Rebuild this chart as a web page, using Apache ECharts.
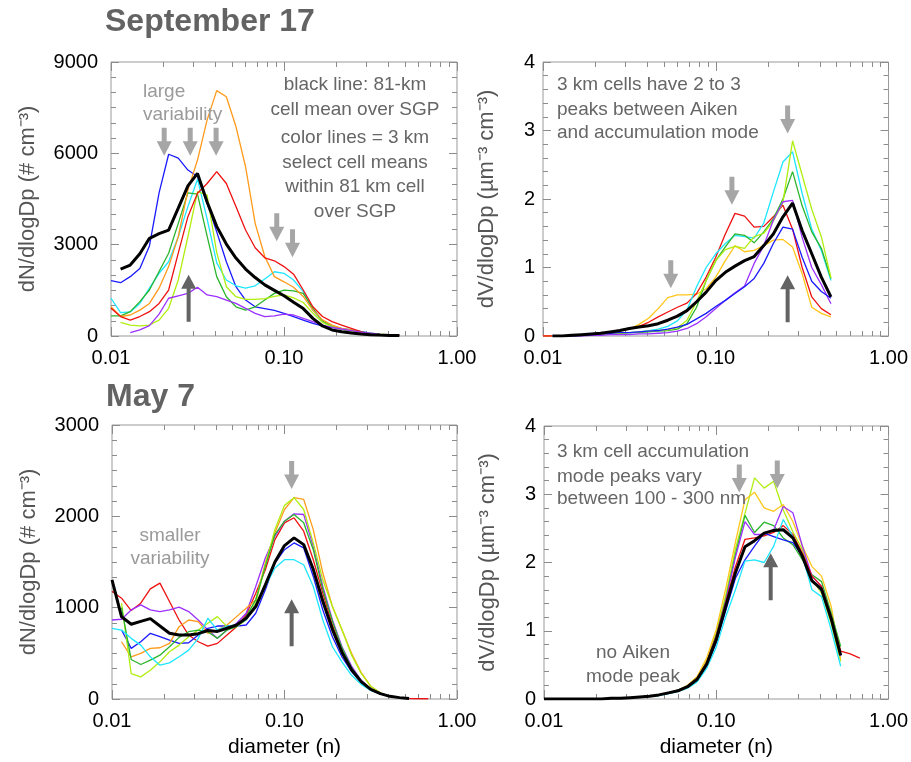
<!DOCTYPE html>
<html>
<head>
<meta charset="utf-8">
<script src="https://cdn.jsdelivr.net/npm/echarts@6/dist/echarts.min.js"></script>
<style>
  html, body { margin: 0; padding: 0; background: #fff; }
  #chart { width: 911px; height: 762px; }
</style>
</head>
<body>
<div id="chart"></div>
<script>
// size bins, 18 per decade
const diameters = [0.01000, 0.01136, 0.01292, 0.01468, 0.01668, 0.01896, 0.02154, 0.02448, 0.02783, 0.03162,
  0.03594, 0.04084, 0.04642, 0.05275, 0.05995, 0.06813, 0.07743, 0.08799, 0.1000, 0.1136,
  0.1292, 0.1468, 0.1668, 0.1896, 0.2154, 0.2448, 0.2783, 0.3162, 0.3594, 0.4084,
  0.4642, 0.5275, 0.5995, 0.6813]

// September 17, number distribution
const sepN_black = [null, 2200, 2330, 2700, 3210, 3360, 3480, 4200, 4930, 5340, 4400, 3600, 3020, 2560, 2200, 1920, 1680, 1500, 1320, 1110, 900, 580, 330, 200, 140, 100, 65, 45, 30, 20, 15]
const sepN_blue = [1820, 1750, 1950, 2220, 2960, 4700, 5970, 5840, 5450, 5240, 4360, 3420, 2440, 1620, 1180, 960, 900, 840, 745, 635, 525, 415, 330, 285, 240, 200, 140, 90, 55, 30, 20]
const sepN_cyan = [1240, 770, 790, 1070, 1570, 2060, 2440, 3260, 4250, 5150, 3850, 2400, 1840, 1650, 1570, 1650, 1870, 2110, 2060, 1840, 1460, 850, 470, 310, 250, 200, 140, 90, 55, 30, 20]
const sepN_green = [660, 660, 800, 1130, 1510, 2120, 2720, 3700, 4700, 4660, 3280, 1950, 1290, 960, 850, 960, 1180, 1400, 1510, 1480, 1400, 910, 500, 310, 220, 170, 120, 80, 50, 30, 20]
const sepN_lime = [null, 450, 360, 330, 360, 520, 910, 1840, 3260, 4740, 4630, 2740, 1620, 1290, 1200, 1200, 1230, 1300, 1350, 1250, 1100, 750, 450, 300, 230, 180, 130, 90, 60, 40, 25]
const sepN_orange = [960, 640, 690, 850, 1070, 1570, 2280, 3260, 4790, 5780, 7100, 8060, 7860, 6880, 5560, 3700, 2610, 1950, 1780, 1600, 1300, 850, 530, 360, 250, 200, 110, 55, 30, 20, 10]
const sepN_red = [910, 640, 525, 640, 800, 1070, 1510, 2720, 3920, 4690, 5010, 5400, 5010, 4250, 3480, 2900, 2570, 2470, 2280, 2030, 1510, 960, 640, 470, 360, 250, 140, 65, 35, 20, 10]
const sepN_purple = [null, null, 110, 200, 340, 720, 1240, 1320, 1400, 1600, 1350, 1290, 1180, 1070, 910, 745, 635, 660, 720, 690, 580, 470, 360, 285, 230, 180, 130, 90, 55, 30, 20]

// September 17, volume distribution
const sepV_black = [null, 0, 0, 0.01, 0.02, 0.03, 0.04, 0.06, 0.08, 0.11, 0.13, 0.15, 0.18, 0.23, 0.29, 0.37, 0.50, 0.64, 0.81, 0.93, 1.02, 1.10, 1.16, 1.32, 1.49, 1.74, 1.94, 1.54, 1.20, 0.86, 0.57]
const sepV_red = [0, 0, 0, 0, 0.01, 0.02, 0.03, 0.05, 0.08, 0.11, 0.14, 0.20, 0.28, 0.35, 0.42, 0.48, 0.62, 0.86, 1.15, 1.49, 1.79, 1.75, 1.59, 1.60, 1.74, 1.91, 1.56, 1.00, 0.57, 0.40, 0.31]
const sepV_gold = [0, 0, 0, 0, 0.01, 0.02, 0.03, 0.05, 0.07, 0.10, 0.17, 0.26, 0.40, 0.56, 0.60, 0.60, 0.61, 0.69, 0.86, 1.10, 1.32, 1.23, 1.25, 1.32, 1.40, 1.41, 1.30, 0.91, 0.42, 0.33, 0.28]
const sepV_cyan = [null, 0, 0, 0, 0.01, 0.02, 0.03, 0.04, 0.05, 0.05, 0.06, 0.08, 0.10, 0.14, 0.22, 0.38, 0.72, 1.00, 1.20, 1.35, 1.47, 1.45, 1.43, 1.65, 2.10, 2.54, 2.69, 2.08, 1.56, 1.25, 0.81]
const sepV_green = [null, 0, 0, 0, 0.01, 0.02, 0.02, 0.03, 0.04, 0.05, 0.05, 0.06, 0.07, 0.08, 0.10, 0.18, 0.42, 0.81, 1.10, 1.30, 1.49, 1.47, 1.36, 1.52, 1.71, 2.00, 2.40, 1.90, 1.52, 1.28, 0.84]
const sepV_lime = [null, 0, 0, 0, 0.01, 0.02, 0.02, 0.03, 0.04, 0.05, 0.06, 0.07, 0.08, 0.09, 0.12, 0.23, 0.50, 0.81, 1.10, 1.26, 1.31, 1.28, 1.45, 1.50, 1.68, 1.95, 2.85, 2.35, 1.85, 1.45, 0.85]
const sepV_purple = [null, 0, 0, 0, 0, 0.01, 0.01, 0.02, 0.02, 0.02, 0.03, 0.03, 0.04, 0.05, 0.07, 0.11, 0.18, 0.28, 0.40, 0.52, 0.63, 0.73, 1.06, 1.32, 1.69, 1.96, 1.98, 1.44, 1.00, 0.75, 0.47]
const sepV_blue = [null, 0, 0, 0, 0.01, 0.02, 0.03, 0.04, 0.05, 0.05, 0.06, 0.07, 0.08, 0.10, 0.13, 0.17, 0.25, 0.33, 0.43, 0.52, 0.62, 0.72, 0.84, 1.06, 1.35, 1.59, 1.56, 1.15, 0.80, 0.65, 0.55]

// May 7, number distribution
const mayN_black = [1305, 900, 818, 850, 880, 800, 720, 700, 700, 715, 750, 740, 775, 810, 884, 1012, 1250, 1500, 1680, 1764, 1690, 1420, 1070, 760, 510, 320, 190, 105, 59, 29, 15, 5]
const mayN_red = [1180, 1104, 968, 1049, 1206, 1269, 1067, 865, 700, 627, 579, 609, 700, 792, 920, 1159, 1415, 1745, 1929, 1984, 1837, 1525, 1159, 810, 540, 330, 190, 105, 59, 29, 15, 5, 3, 3]
const mayN_purple = [865, 873, 975, 1030, 975, 957, 975, 1005, 957, 865, 755, 664, 755, 829, 939, 1232, 1544, 1782, 1947, 2028, 2020, 1672, 1232, 865, 572, 360, 205, 110, 59, 29, 15, 5]
const mayN_blue = [null, 755, 554, 627, 719, 682, 645, 609, 616, 700, 774, 799, 799, 799, 810, 939, 1195, 1489, 1635, 1709, 1654, 1342, 975, 682, 460, 300, 180, 100, 55, 29, 15, 5]
const mayN_orange = [null, 627, 462, 499, 554, 561, 609, 792, 865, 847, 719, 755, 810, 902, 994, 1085, 1490, 1819, 2075, 2204, 2186, 1855, 1379, 1012, 756, 500, 290, 140, 65, 30, 15, 5]
const mayN_lime = [null, 1050, 279, 242, 315, 407, 517, 590, 682, 755, 829, 902, 792, 792, 865, 1049, 1470, 1855, 2120, 2204, 2075, 1709, 1305, 1012, 760, 480, 280, 140, 65, 30, 15, 5]
const mayN_green = [null, 1000, 433, 378, 425, 480, 572, 675, 737, 755, 737, 664, 755, 792, 902, 1085, 1452, 1800, 1947, 2020, 1929, 1635, 1200, 850, 560, 340, 195, 105, 59, 29, 15, 5]
const mayN_cyan = [774, 755, 664, 590, 462, 370, 396, 462, 535, 664, 884, 755, 799, 810, 865, 1030, 1232, 1434, 1525, 1525, 1470, 1232, 865, 572, 407, 260, 160, 95, 55, 29, 15, 5]

// May 7, volume distribution
const mayV_black = [0, 0, 0, 0, 0, 0, 0, 0.01, 0.01, 0.02, 0.03, 0.04, 0.06, 0.09, 0.12, 0.18, 0.29, 0.51, 0.87, 1.36, 1.85, 2.23, 2.32, 2.43, 2.47, 2.48, 2.36, 2.09, 1.73, 1.61, 1.18, 0.64]
const mayV_red = [0, 0, 0, 0, 0, 0, 0, 0.01, 0.01, 0.02, 0.03, 0.04, 0.06, 0.09, 0.12, 0.18, 0.30, 0.54, 0.92, 1.42, 1.94, 2.34, 2.36, 2.39, 2.44, 2.54, 2.41, 2.14, 1.80, 1.65, 1.21, 0.70, 0.66, 0.60]
const mayV_gold = [0, 0, 0, 0, 0, 0, 0, 0.01, 0.01, 0.02, 0.03, 0.04, 0.06, 0.09, 0.13, 0.20, 0.33, 0.60, 1.02, 1.62, 2.30, 2.92, 3.03, 2.80, 2.75, 2.85, 2.60, 2.24, 1.94, 1.80, 1.36, 0.58]
const mayV_lime = [0, 0, 0, 0, 0, 0, 0, 0.01, 0.01, 0.02, 0.03, 0.04, 0.06, 0.09, 0.13, 0.19, 0.31, 0.56, 0.97, 1.52, 2.20, 2.72, 3.24, 3.09, 3.19, 2.77, 2.45, 2.19, 1.75, 1.55, 1.11, 0.55]
const mayV_green = [0, 0, 0, 0, 0, 0, 0, 0.01, 0.01, 0.02, 0.03, 0.04, 0.06, 0.09, 0.13, 0.19, 0.30, 0.54, 0.94, 1.46, 2.12, 2.69, 2.44, 2.59, 2.54, 2.36, 2.26, 2.04, 1.82, 1.72, 1.26, 0.77]
const mayV_purple = [0, 0, 0, 0, 0, 0, 0, 0.01, 0.01, 0.02, 0.03, 0.04, 0.06, 0.09, 0.13, 0.19, 0.30, 0.53, 0.92, 1.44, 2.08, 2.60, 2.41, 2.41, 2.48, 2.82, 2.73, 2.24, 1.80, 1.65, 1.21, 0.63]
const mayV_blue = [0, 0, 0, 0, 0, 0, 0, 0.01, 0.01, 0.02, 0.03, 0.04, 0.06, 0.08, 0.12, 0.17, 0.27, 0.48, 0.83, 1.30, 1.77, 2.04, 2.24, 2.43, 2.38, 2.33, 2.29, 2.09, 1.75, 1.58, 1.16, 0.65]
const mayV_cyan = [0, 0, 0, 0, 0, 0, 0, 0.01, 0.01, 0.02, 0.03, 0.04, 0.05, 0.08, 0.11, 0.16, 0.25, 0.45, 0.76, 1.21, 1.60, 2.02, 2.04, 2.00, 2.24, 2.63, 2.38, 2.09, 1.60, 1.50, 1.02, 0.48]

// arrow positions [diameter, value]
const sepN_down = [[0.0203, 6380], [0.0287, 6380], [0.0405, 6380], [0.0908, 3570], [0.112, 3045]]
const sepN_up = [[0.0281, 1240]]
const sepV_down = [[0.0549, 0.90], [0.124, 2.12], [0.2606, 3.16]]
const sepV_up = [[0.2606, 0.545]]
const mayN_down = [[0.110, 2453]]
const mayN_up = [[0.110, 836]]
const mayV_down = [[0.136, 3.23], [0.226, 3.29]]
const mayV_up = [[0.207, 1.79]]

const C = {
    black: '#000000', blue: '#1a1aff', cyan: '#1ee6ff', green: '#2cb52c', lime: '#b0ee10',
    orange: '#ff9a1a', gold: '#ffc61a', red: '#ee1111', purple: '#9b30ff'
}
const NARROW = '"Liberation Sans Narrow", "Liberation Sans", sans-serif'
const SANS = '"Liberation Sans", Arial, sans-serif'
const tickColor = '#8c8c8c'
const downArrow = 'path://M5,0L10,0L10,13L15,13L7.5,27L0,13L5,13Z'
const upArrow = 'path://M7.5,0L15,14L9.5,14L9.5,47L5.5,47L5.5,14L0,14Z'

const panels = [
    {
        grid: { left: 111, top: 62, width: 346, height: 274 },
        yMax: 9000, yInt: 3000, ySplit: 6, yName: 'dN/dlogDp (# cm⁻³)', nameGap: 72, labelMargin: 13,
        lines: [['blue', sepN_blue], ['cyan', sepN_cyan], ['green', sepN_green], ['lime', sepN_lime],
            ['orange', sepN_orange], ['red', sepN_red], ['purple', sepN_purple]],
        black: sepN_black, down: sepN_down, up: sepN_up, xName: ''
    },
    {
        grid: { left: 543, top: 62, width: 347, height: 274 },
        yMax: 4, yInt: 1, ySplit: 5, yName: 'dV/dlogDp (µm⁻³ cm⁻³)', nameGap: 45, labelMargin: 8,
        lines: [['gold', sepV_gold], ['red', sepV_red], ['cyan', sepV_cyan], ['green', sepV_green],
            ['lime', sepV_lime], ['purple', sepV_purple], ['blue', sepV_blue]],
        black: sepV_black, down: sepV_down, up: sepV_up, xName: ''
    },
    {
        grid: { left: 112, top: 425, width: 345, height: 274 },
        yMax: 3000, yInt: 1000, ySplit: 6, yName: 'dN/dlogDp (# cm⁻³)', nameGap: 72, labelMargin: 13,
        lines: [['red', mayN_red], ['purple', mayN_purple], ['blue', mayN_blue], ['orange', mayN_orange],
            ['lime', mayN_lime], ['green', mayN_green], ['cyan', mayN_cyan]],
        black: mayN_black, down: mayN_down, up: mayN_up, xName: 'diameter (n)'
    },
    {
        grid: { left: 544, top: 426, width: 346, height: 273 },
        yMax: 4, yInt: 1, ySplit: 5, yName: 'dV/dlogDp (µm⁻³ cm⁻³)', nameGap: 45, labelMargin: 8,
        lines: [['lime', mayV_lime], ['gold', mayV_gold], ['green', mayV_green], ['purple', mayV_purple],
            ['red', mayV_red], ['blue', mayV_blue], ['cyan', mayV_cyan]],
        black: mayV_black, down: mayV_down, up: mayV_up, xName: 'diameter (n)'
    }
]

// tick positions 2..9 within each decade, in log10 units
const minorExp = []
for (let e = -2; e < 0; e++) {
    for (let m = 2; m <= 9; m++) minorExp.push(e + Math.log10(m))
}

function pairs(vals) {
    return vals.map((v, i) => (v == null ? null : [diameters[i], v])).filter(p => p)
}

const option = {
    animation: false,
    textStyle: { fontFamily: SANS },
    grid: [], xAxis: [], yAxis: [], series: [], graphic: []
}

panels.forEach((p, gi) => {
    option.grid.push(Object.assign({ show: true, borderColor: '#999', borderWidth: 1, backgroundColor: 'transparent' }, p.grid))
    const xi = option.xAxis.length
    const yi = option.yAxis.length
    const tick = (len, custom) => {
        const t = { show: true, inside: true, length: len, lineStyle: { color: tickColor, width: 1 } }
        if (custom) t.customValues = custom
        return t
    }
    // bottom log axis with labels and decade ticks
    option.xAxis.push({
        type: 'log', gridIndex: gi, position: 'bottom', min: 0.01, max: 1, logBase: 10,
        axisLine: { show: false, onZero: false }, splitLine: { show: false }, axisTick: tick(9),
        axisLabel: { formatter: v => (+v).toFixed(2), margin: 12, color: '#000', fontFamily: NARROW, fontSize: 20 },
        name: p.xName, nameLocation: 'middle', nameGap: 38,
        nameTextStyle: { color: '#000', fontFamily: NARROW, fontSize: 21 }
    })
    // minor ticks bottom
    option.xAxis.push({
        type: 'value', gridIndex: gi, position: 'bottom', min: -2, max: 0,
        axisLine: { show: false, onZero: false }, splitLine: { show: false }, axisLabel: { show: false },
        axisTick: tick(5, minorExp)
    })
    // mirrored top axis
    option.xAxis.push({
        type: 'log', gridIndex: gi, position: 'top', min: 0.01, max: 1, logBase: 10,
        axisLine: { show: false, onZero: false }, splitLine: { show: false }, axisLabel: { show: false },
        axisTick: tick(9)
    })
    option.xAxis.push({
        type: 'value', gridIndex: gi, position: 'top', min: -2, max: 0,
        axisLine: { show: false, onZero: false }, splitLine: { show: false }, axisLabel: { show: false },
        axisTick: tick(5, minorExp)
    })
    const yBase = {
        type: 'value', gridIndex: gi, min: 0, max: p.yMax, interval: p.yInt,
        axisLine: { show: false, onZero: false }, splitLine: { show: false },
        axisTick: tick(8),
        minorTick: { show: true, splitNumber: p.ySplit, length: 5, lineStyle: { color: tickColor, width: 1 } },
        minorSplitLine: { show: false }
    }
    option.yAxis.push(Object.assign({}, yBase, {
        position: 'left',
        axisLabel: { formatter: v => String(v), margin: p.labelMargin, color: '#000', fontFamily: NARROW, fontSize: 20 },
        name: p.yName, nameLocation: 'middle', nameGap: p.nameGap,
        nameTextStyle: { color: '#555', fontFamily: SANS, fontSize: 22 }
    }))
    option.yAxis.push(Object.assign({}, yBase, { position: 'right', axisLabel: { show: false } }))

    p.lines.forEach(([c, vals]) => {
        option.series.push({
            type: 'line', xAxisIndex: xi, yAxisIndex: yi, data: pairs(vals),
            symbol: 'none', silent: true, z: 2,
            lineStyle: { color: C[c], width: 1.3 }, itemStyle: { color: C[c] }
        })
    })
    const marks = p.down.map(a => ({
        coord: a, symbol: downArrow, symbolSize: [15, 28], itemStyle: { color: '#a6a6a6' }
    })).concat(p.up.map(a => ({
        coord: a, symbol: upArrow, symbolSize: [15, 47], itemStyle: { color: '#636363' }
    })))
    option.series.push({
        type: 'line', xAxisIndex: xi, yAxisIndex: yi, data: pairs(p.black),
        symbol: 'none', silent: true, z: 3,
        lineStyle: { color: C.black, width: 3 }, itemStyle: { color: C.black },
        markPoint: { silent: true, label: { show: false }, data: marks }
    })
})

// titles and notes
const txt = (text, x, y, opts) => Object.assign({
    type: 'text', z: 10, silent: true,
    style: Object.assign({ text: text, x: x, y: y, textAlign: 'center', textVerticalAlign: 'middle',
        font: '19px "Liberation Sans", Arial, sans-serif', fill: '#666' }, opts || {})
})
const light = { fill: '#9a9a9a' }
const leftLight = { fill: '#9a9a9a', textAlign: 'left' }
const left = { textAlign: 'left' }
const title = { textAlign: 'left', font: 'bold 32px "Liberation Sans", Arial, sans-serif', fill: '#636363' }
option.graphic = [
    txt('September 17', 105, 22, title),
    txt('May 7', 106, 397, title),
    txt('large', 143, 92, leftLight),
    txt('variability', 143, 115, leftLight),
    txt('black line: 81-km', 355, 85),
    txt('cell mean over SGP', 355, 110),
    txt('color lines = 3 km', 355, 138),
    txt('select cell means', 355, 163),
    txt('within 81 km cell', 355, 187),
    txt('over SGP', 355, 212),
    txt('3 km cells have 2 to 3', 557, 85, left),
    txt('peaks between Aiken', 557, 110, left),
    txt('and accumulation mode', 557, 133, left),
    txt('smaller', 170, 536, light),
    txt('variability', 170, 559, light),
    txt('3 km cell accumulation', 557, 452, left),
    txt('mode peaks vary', 557, 477, left),
    txt('between 100 - 300 nm', 557, 499, left),
    txt('no Aiken', 633, 653),
    txt('mode peak', 633, 677)
]

const chart = echarts.init(document.getElementById('chart'))
chart.setOption(option)
</script>
</body>
</html>
